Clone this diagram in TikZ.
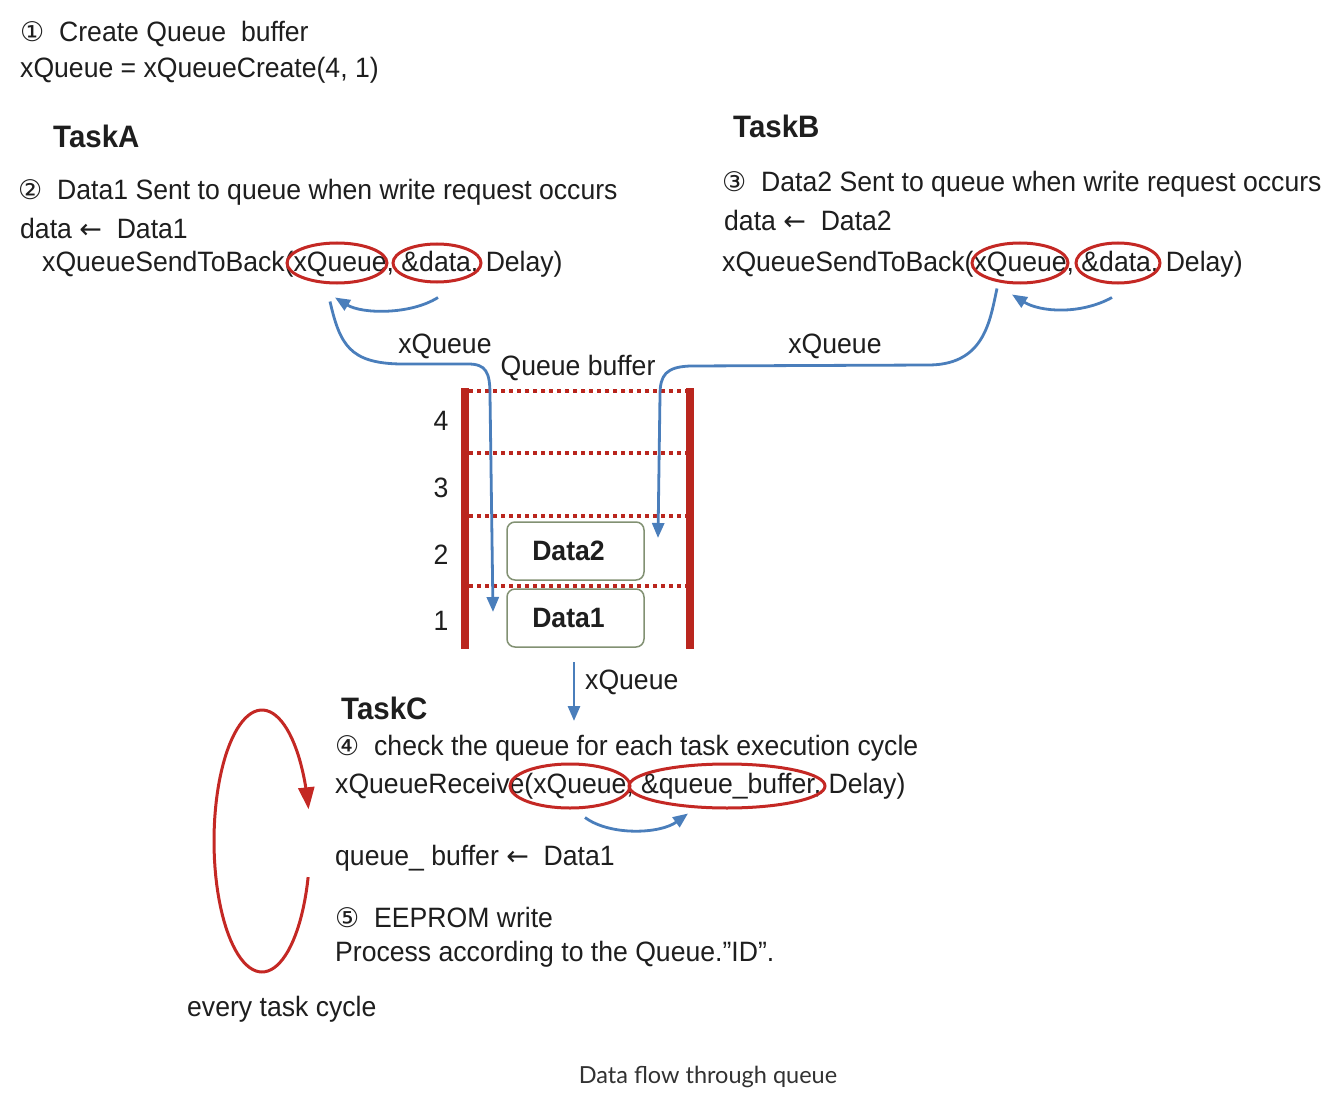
\documentclass[tikz,border=0pt]{standalone}
\usepackage{fontspec}
\setmainfont{Liberation Sans}[FakeStretch=0.95]
\newfontfamily\symf{DejaVu Sans}
\newfontfamily\capfont{Lato}
\usetikzlibrary{shapes.geometric,arrows.meta}
\definecolor{qred}{RGB}{196,40,36}
\definecolor{barred}{RGB}{186,38,30}
\definecolor{qblue}{RGB}{74,126,187}
\definecolor{boxgreen}{RGB}{130,145,115}
\definecolor{txtc}{RGB}{30,30,30}
\definecolor{capc}{RGB}{50,50,50}
\newcommand{\cnum}[1]{{\symf\fontsize{27}{30}\selectfont #1}}
\begin{document}
\begin{tikzpicture}[x=1pt,y=-1pt,
 txt/.style={anchor=west,inner sep=0,font=\fontsize{28}{32}\selectfont,text=txtc},
 ttl/.style={anchor=west,inner sep=0,font=\fontsize{31}{35}\selectfont\bfseries,text=txtc},
 oval/.style={ellipse,draw=qred,line width=3pt,inner sep=0},
 flow/.style={draw=qblue,line width=2.8pt,-{Triangle[length=15pt,width=12pt]}},
 bar/.style={draw=barred,line width=8pt},
 slot/.style={draw=barred,line width=4pt,dash pattern=on 4pt off 4pt},
 databox/.style={draw=boxgreen,line width=1.5pt,rounded corners=8pt,minimum width=137pt,minimum height=58pt,inner sep=0,font=\fontsize{28}{32}\selectfont\bfseries,text=txtc},
 loopa/.style={draw=qred,line width=3pt,-{Triangle[length=22pt,width=16pt]}}
]
\useasboundingbox[fill=white] (0,0) rectangle (1334,1094);

% Step 1
\node[txt] (s1) at (20,34) {\cnum{①}\ \ Create Queue\ \ buffer};
\node[txt] (s1b) at (20,70) {xQueue = xQueueCreate(4, 1)};

% TaskA
\node[ttl] (ta) at (53,136) {TaskA};
\node[txt] (a1) at (18,192) {\cnum{②}\ \ Data1 Sent to queue when write request occurs};
\node[txt] (a2) at (20,228) {data \cnum{←}\ \ Data1};
\node[txt] (a3) at (42,264) {xQueueSendToBack(xQueue, \&data, Delay)};
\node[oval,minimum width=100pt,minimum height=40pt] (eA1) at (337,263) {};
\node[oval,minimum width=88pt,minimum height=38pt] (eA2) at (437,263) {};

% TaskB
\node[ttl] (tb) at (733,126) {TaskB};
\node[txt] (b1) at (722,184) {\cnum{③}\ \ Data2 Sent to queue when write request occurs};
\node[txt] (b2) at (724,220) {data \cnum{←}\ \ Data2};
\node[txt] (b3) at (722,264) {xQueueSendToBack(xQueue, \&data, Delay)};
\node[oval,minimum width=96pt,minimum height=40pt] (eB1) at (1020,263) {};
\node[oval,minimum width=84pt,minimum height=40pt] (eB2) at (1118,263) {};

% labels
\node[txt,anchor=center] (lq1) at (445,346) {xQueue};
\node[txt,anchor=center] (lq2) at (835,346) {xQueue};
\node[txt,anchor=center] (lqb) at (578,368) {Queue buffer};

% queue buffer
\draw[bar] (465,388) -- (465,649);
\draw[bar] (690,388) -- (690,649);
\foreach \yy in {391,453,516,586} \draw[slot] (469,\yy) -- (686,\yy);
\node[txt,anchor=center] (n4) at (441,421) {4};
\node[txt,anchor=center] (n3) at (441,488) {3};
\node[txt,anchor=center] (n2) at (441,555) {2};
\node[txt,anchor=center] (n1) at (441,621) {1};
\node[databox] (d2) at (575.5,551) {\kern-14pt Data2};
\node[databox] (d1) at (575.5,618) {\kern-14pt Data1};

% TaskC
\node[txt] (lq3) at (585,682) {xQueue};
\node[ttl] (tc) at (341,708) {TaskC};
\node[txt] (c1) at (335,748) {\cnum{④}\ \ check the queue for each task execution cycle};
\node[txt] (c2) at (335,786) {xQueueReceive(xQueue, \&queue\_buffer, Delay)};
\node[oval,minimum width=120pt,minimum height=44pt] (eC1) at (570,786) {};
\node[oval,minimum width=196pt,minimum height=44pt] (eC2) at (727,786) {};
\node[txt] (c3) at (335,858) {queue\_ buffer \cnum{←}\ \ Data1};
\node[txt] (c4) at (335,917) {\cnum{⑤}\ \ EEPROM write};
\node[txt] (c5) at (335,954) {Process according to the Queue.”ID”.};
\node[txt] (cyc) at (187,1009) {every task cycle};

% caption
\node[inner sep=0,font=\capfont\fontsize{23.5}{28}\selectfont,text=capc] (cap) at (708,1077) {Data flow through queue};

% blue connectors
\coordinate (endA) at (493,612);
\coordinate (endB) at (658,538);
\draw[flow] ([xshift=1pt,yshift=-14pt]eA2.south) .. controls (410,315) and (362,314) .. ([xshift=-2pt,yshift=-13pt]eA1.south);
\draw[flow] ([xshift=-7pt,yshift=-17pt]eA1.south) .. controls (340,345) and (350,363) .. (400,364) -- (468,364) .. controls (486,364) and (490,372) .. (490,395) -- (endA);
\draw[flow] ([xshift=-6pt,yshift=-13pt]eB2.south) .. controls (1080,315) and (1040,312) .. ([xshift=-8pt,yshift=-10pt]eB1.south);
\draw[flow] ([xshift=-23pt,yshift=-4pt]eB1.south) .. controls (990,320) and (985,364) .. (930,365) -- (690,366) .. controls (666,367) and (660,375) .. (660,395) -- (endB);
\coordinate (qtop) at (574,662);
\draw[flow] (qtop) -- (574,721);
\draw[flow] ([xshift=15pt,yshift=-8pt]eC1.south) .. controls (610,836) and (660,834) .. ([xshift=-39pt,yshift=-4pt]eC2.south);

% loop
\draw[loopa] plot[domain=16:346,samples=90] ({262+48*cos(\x)},{841+131*sin(\x)});
\end{tikzpicture}
\end{document}
